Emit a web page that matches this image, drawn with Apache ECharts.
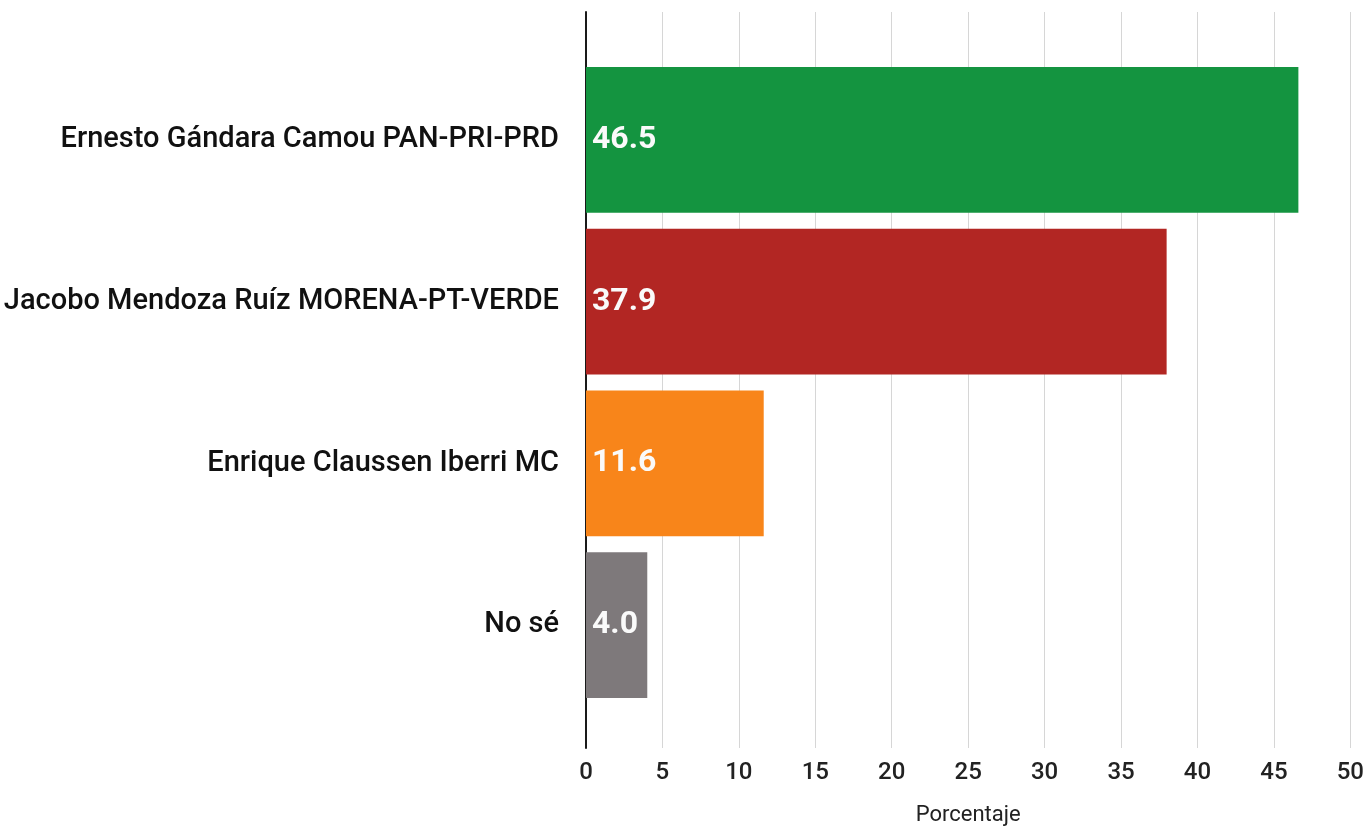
<!DOCTYPE html>
<html><head><meta charset="utf-8">
<script src="https://cdn.jsdelivr.net/npm/echarts@6/dist/echarts.min.js"></script>
<style>html,body{margin:0;padding:0;background:#fff}#c{width:1367px;height:831px}</style>
</head><body><div id="c"></div>
<script>
const categories = ["Ernesto Gándara Camou PAN-PRI-PRD","Jacobo Mendoza Ruíz MORENA-PT-VERDE","Enrique Claussen Iberri MC","No sé"];
const values = [46.5, 37.9, 11.6, 4.0];
const colors = ["#149440","#B22623","#F8851A","#7E797B"];
const xTicks = [0,5,10,15,20,25,30,35,40,45,50];
const xTitle = "Porcentaje";

const chart = echarts.init(document.getElementById('c'));
const FONT = 'Roboto';
chart.setOption({
  animation:false,
  grid:[
    {left:586,right:15,top:12,bottom:79},
    {left:586,right:15,top:59,bottom:125}
  ],
  xAxis:[
    {gridIndex:0,type:'value',min:xTicks[0],max:xTicks[xTicks.length-1],interval:5,
     name:xTitle,nameLocation:'middle',nameGap:56,
     nameTextStyle:{fontFamily:FONT,fontSize:22,color:'#222'},
     axisLine:{show:false},axisTick:{show:false},
     axisLabel:{fontFamily:FONT,fontSize:24,fontWeight:500,color:'#222',margin:13},
     splitLine:{show:true,lineStyle:{color:'#d6d6d6',width:1}}},
    {gridIndex:1,type:'value',min:xTicks[0],max:xTicks[xTicks.length-1],show:false,splitLine:{show:false}}
  ],
  yAxis:[
    {gridIndex:0,type:'category',data:[''],axisLine:{show:true,lineStyle:{color:'#1a1a1a',width:2}},
     axisTick:{show:false},axisLabel:{show:false},splitLine:{show:false}},
    {gridIndex:1,type:'category',data:categories,inverse:true,
     axisLine:{show:false},axisTick:{show:false},
     axisLabel:{fontFamily:FONT,fontSize:29,fontWeight:500,color:'#111',margin:27}}
  ],
  series:[{
    type:'bar',xAxisIndex:1,yAxisIndex:1,barCategoryGap:'10%',
    data:values.map((v,i)=>({value:v,itemStyle:{color:colors[i]}})),
    label:{show:true,position:'insideLeft',distance:6,color:'#fafafa',fontFamily:FONT,fontWeight:'bold',fontSize:32,
      formatter:p=>p.value.toFixed(1)}
  }]
});
</script></body></html>
